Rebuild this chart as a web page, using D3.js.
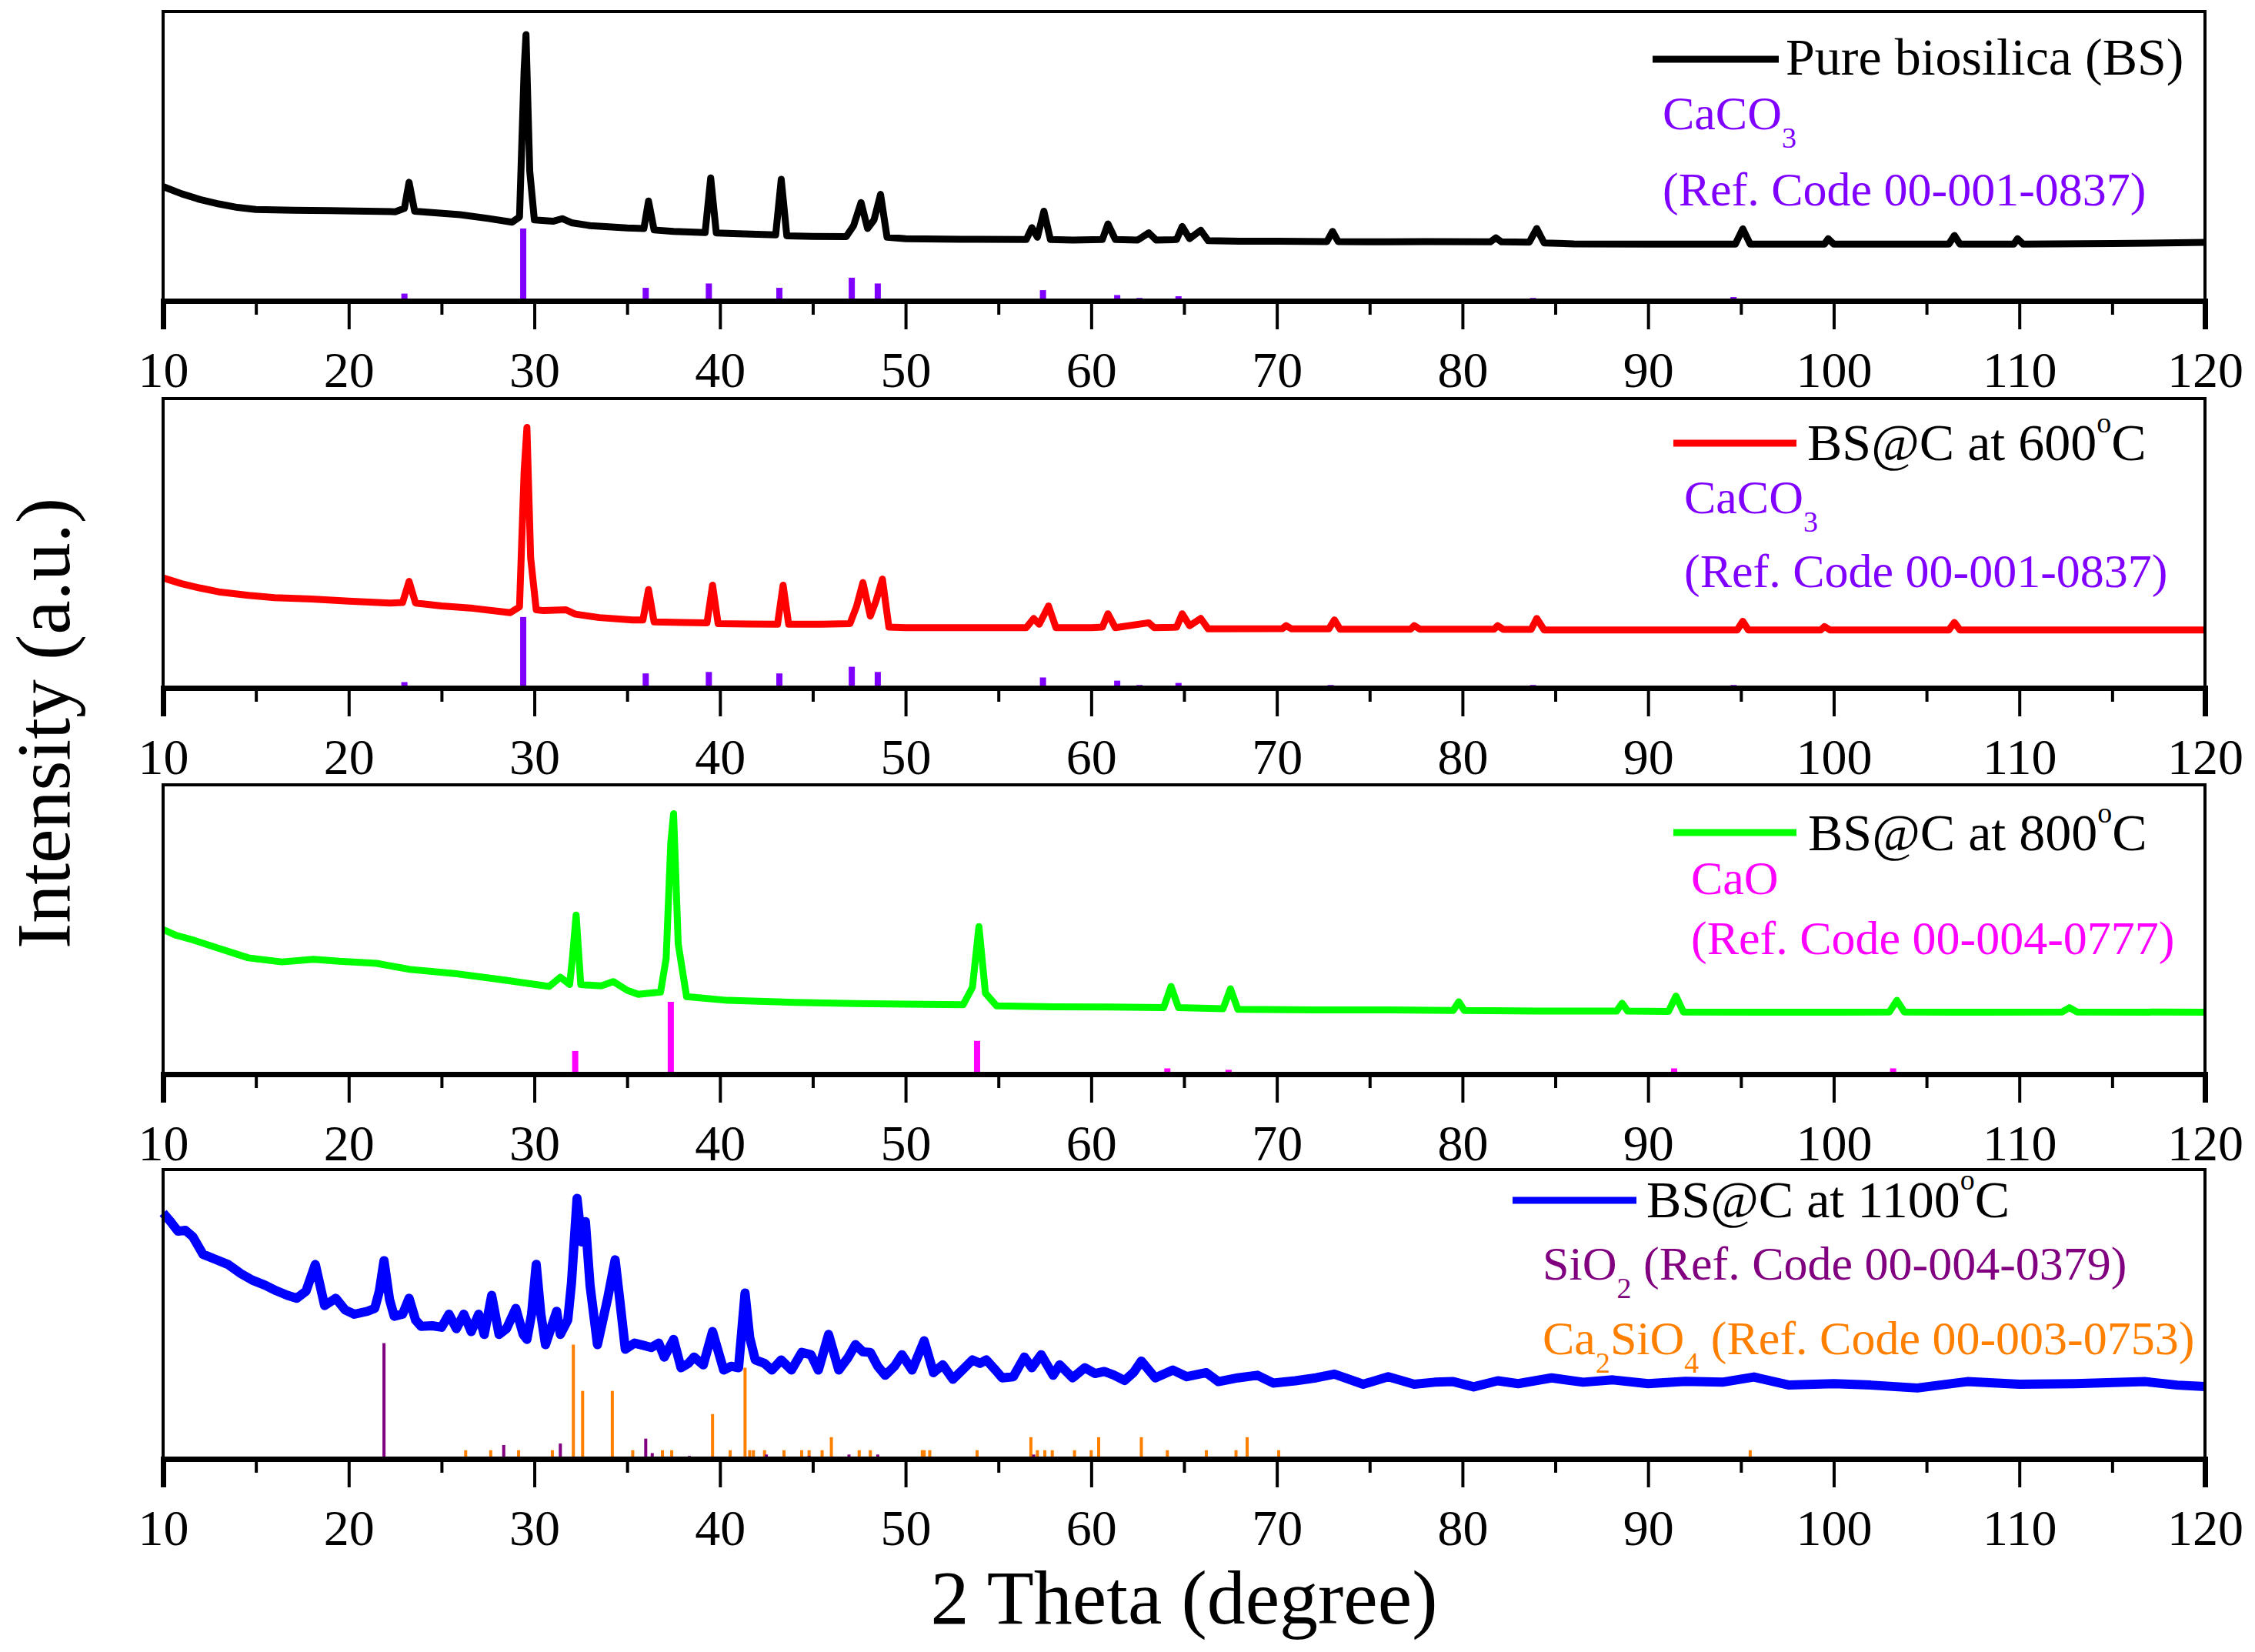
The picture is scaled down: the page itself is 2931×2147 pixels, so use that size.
<!DOCTYPE html>
<html>
<head>
<meta charset="utf-8">
<script src="https://cdn.jsdelivr.net/npm/d3@7"></script>
<style>
  body { margin: 0; background: #fff; }
  svg text { font-family: "Liberation Serif", "Times New Roman", serif; }
</style>
</head>
<body>
<svg id="chart"></svg>
<script>
// values: [2 theta (degree), intensity in % of panel height]
const pureBS = [[10,39.5],[11,37],[12,35],[13,33.5],[14,32.3],[15,31.6],[17,31.3],[19,31.2],[21,31],[22.5,30.8],[23.0,32],[23.25,41],[23.55,31],[24.5,30.5],[26,29.8],[27.5,28.5],[28.8,27.2],[29.2,29],[29.45,80],[29.55,92],[29.75,45],[30.0,28],[31,27.5],[31.5,28.4],[32,27],[33,26],[35,25.2],[35.9,25],[36.15,34.5],[36.45,24.5],[37.5,24],[39.2,23.6],[39.5,42.5],[39.8,23.5],[41,23.2],[43.0,22.8],[43.3,42],[43.6,22.5],[45,22.3],[46.8,22.2],[47.2,26],[47.6,34],[47.95,25],[48.3,28],[48.65,36.8],[49.0,22],[50,21.5],[53,21.3],[56.5,21.2],[56.8,25.3],[57.1,22],[57.45,31],[57.8,21.2],[59,21],[60.6,21.2],[60.9,26.6],[61.3,21.2],[62.5,21],[63.1,23.5],[63.5,21],[64.6,21.2],[64.9,25.7],[65.3,21.5],[65.9,24.4],[66.3,20.8],[68,20.6],[70,20.6],[72.7,20.5],[73.0,24],[73.3,20.5],[76,20.4],[78,20.5],[81.5,20.4],[81.8,21.8],[82.1,20.4],[83.6,20.3],[84.0,25],[84.4,20],[86,19.7],[90,19.6],[94.7,19.6],[95.1,24.9],[95.5,19.6],[99.5,19.6],[99.7,21.5],[100,19.6],[106.2,19.6],[106.5,22.6],[106.8,19.6],[109.7,19.6],[109.9,21.5],[110.2,19.6],[115,19.8],[120,20.2]];

const bs600 = [[10,38],[11,36],[12,34.5],[13,33.2],[14.6,32],[16,31.2],[18,30.7],[20,30],[22.2,29.3],[22.9,29.5],[23.25,36.8],[23.6,29.3],[25,28.3],[26.7,27.5],[28.7,26],[29.2,28],[29.45,75],[29.6,90],[29.8,45],[30.1,27],[30.5,26.7],[31.7,27],[32.2,25.5],[33.5,24.3],[35.3,23.5],[35.85,23.5],[36.15,34],[36.45,22.8],[38,22.6],[39.3,22.5],[39.6,35.5],[39.9,22.2],[41.5,22.1],[43.1,22],[43.4,35.5],[43.7,22],[45.5,22],[47.0,22.2],[47.35,28],[47.7,36.4],[48.1,24.8],[48.4,30],[48.75,37.6],[49.1,21],[50,20.8],[53,20.8],[56.5,20.8],[56.9,24],[57.2,22],[57.7,28.3],[58.1,20.8],[60,20.8],[60.6,21],[60.9,25.6],[61.3,20.8],[63.1,22.5],[63.4,20.8],[64.6,21],[64.9,25.6],[65.3,21.5],[65.9,24],[66.3,20.4],[70.3,20.5],[70.5,21.5],[70.8,20.4],[72.8,20.4],[73.1,23.5],[73.4,20.3],[77.2,20.3],[77.4,21.5],[77.7,20.3],[81.7,20.3],[81.9,21.5],[82.2,20.2],[83.7,20.2],[84.0,24],[84.4,20],[90,20],[94.8,20],[95.1,23],[95.4,20],[99.3,20],[99.5,21.2],[99.8,20],[106.2,20],[106.5,22.6],[106.8,20],[120,20]];

const bs800 = [[10,50],[10.7,48],[11.6,46.4],[12.9,43.7],[14.6,40.2],[16.4,38.8],[18.1,39.7],[19.5,39],[21.5,38.3],[23.3,36.2],[25.7,34.8],[28.4,32.5],[30.3,30.8],[30.8,30.3],[31.4,33.5],[31.9,31],[32.05,40],[32.25,55],[32.5,31],[32.9,30.8],[33.6,30.5],[34.25,32],[35.0,29],[35.6,27.6],[36.8,28.4],[37.1,40],[37.35,80],[37.5,90],[37.75,45],[38.2,26.8],[40.4,25.5],[44,24.8],[47.3,24.4],[50,24.2],[53.1,24],[53.6,30],[53.95,51],[54.3,28],[54.9,23.6],[58,23.3],[61,23.2],[63.9,23],[64.3,30.3],[64.7,23],[67.1,22.6],[67.5,29.5],[67.9,22.4],[72,22.2],[76,22.2],[79.5,22],[79.8,25],[80.1,22],[84,21.8],[88.3,21.8],[88.6,24.5],[88.9,21.8],[91.1,21.7],[91.5,27],[91.9,21.5],[96,21.4],[100,21.4],[103.0,21.5],[103.4,25.5],[103.8,21.5],[108,21.4],[112.3,21.5],[112.7,23],[113.1,21.5],[120,21.4]];

const bs1100 = [[10,85],[10.4,82],[10.8,78.7],[11.2,79],[11.6,76.8],[12.15,70.7],[12.8,69],[13.5,67.2],[14.2,64],[14.8,61.8],[15.5,60],[16.1,58.1],[16.7,56.5],[17.2,55.5],[17.7,58],[18.2,67.2],[18.7,53],[19.3,55.5],[19.8,51.5],[20.3,50],[21.0,51],[21.4,52],[21.65,58],[21.9,68.5],[22.2,55],[22.45,49.3],[22.9,50],[23.25,55.5],[23.6,48],[23.9,45.8],[24.5,46],[25.0,45.5],[25.4,50],[25.8,45],[26.2,50],[26.6,44],[27.0,50],[27.3,43],[27.7,56.5],[28.1,43],[28.5,45],[29.0,52],[29.4,43],[29.6,41.3],[29.85,50],[30.1,67.2],[30.35,50],[30.6,39.5],[31.2,51],[31.4,43],[31.8,48],[32.0,60.8],[32.3,90],[32.55,75],[32.75,82],[33.0,60],[33.4,39.5],[33.95,55.5],[34.35,68.8],[34.6,55],[34.9,37.9],[35.4,40],[35.9,39.2],[36.3,38.5],[36.7,40],[37.0,35.2],[37.5,41.3],[37.9,31.5],[38.3,33],[38.6,35.2],[39.1,32.5],[39.6,44],[40.2,30.7],[40.6,32],[41.0,31.5],[41.35,57.3],[41.6,42],[41.9,34.2],[42.4,33],[42.8,30.7],[43.3,34.2],[43.85,30.7],[44.4,36.8],[44.9,36],[45.3,30.7],[45.85,43],[46.4,30.7],[46.9,35],[47.3,39.5],[47.7,37],[48.1,36.8],[48.5,32],[48.9,28.9],[49.4,32],[49.8,36],[50.35,30.7],[51.0,40.8],[51.5,29.8],[52.0,32.5],[52.55,27.5],[53.1,31],[53.6,34.2],[54.0,33],[54.35,34.2],[54.8,31],[55.2,28],[55.8,28.4],[56.4,35.2],[56.8,31.5],[57.3,36],[57.95,28.9],[58.3,32.5],[59.0,28],[59.65,31.5],[60.2,29.5],[60.7,30.2],[61.2,29],[61.8,27.1],[62.3,30],[62.7,33.8],[63.45,28],[64.4,30.7],[65.15,28.4],[66.2,29.8],[66.85,26.7],[67.9,28],[68.95,28.9],[69.8,26.2],[71,27],[72.1,28],[73.1,29.3],[74.65,25.8],[76.0,28.4],[77.4,25.8],[78.5,26.5],[79.5,26.7],[80.6,24.9],[81.9,27],[83,26],[84.8,28],[86.5,26.5],[88.1,27.3],[90,26],[92,26.8],[94,26.5],[95.7,28.3],[97.6,25.5],[100,26],[102,25.5],[104.5,24.5],[107.2,26.7],[110,25.8],[113,26],[116.8,26.7],[118.5,25.5],[120,25]];

// reference patterns (stick positions and heights)
const caco3PosA = [23.0,29.4,36.0,39.4,43.2,47.1,48.5,57.4,61.4,62.6,64.7,72.9,83.8,94.6];
const caco3HA   = [2.5,25,4.5,6,4.5,8,6,3.7,2,1,1.6,0.8,1,1.3];
const caco3PosB = [23.0,29.4,36.0,39.4,43.2,47.1,48.5,57.4,61.4,62.6,64.7,69.6,72.9,76.8,81.5,83.8,94.6,99.4];
const caco3HB   = [2,24.5,5,5.5,5,7.3,5.5,3.6,2.5,1,1.7,0.5,1,0.5,0.5,1,1,0.5];
const caoPos = [32.2,37.35,53.85,64.1,67.4,79.6,88.5,91.4,103.2,112.5];
const caoH   = [8,25,11.5,2,1.5,0.5,0.5,2,2,0.5];
const sio2Pos = [21.9,28.35,31.4,36.0,36.35,38.35,42.5,44.8,46.95,48.5,56.9,62.2,65.4,69.6,72.9,77.1,79.1,81.4,82.6,83.7,87.6,88.7];
const sio2H   = [40,4.8,5.3,7,2,1,1.5,1,1.5,1.5,1.5,0.7,0.7,0.7,0.7,0.7,0.7,0.7,0.7,0.7,0.7,0.7];
const ca2sio4Pos = [26.3,27.65,29.15,30.97,32.1,32.6,34.2,35.3,36.9,37.4,39.6,40.55,41.35,41.6,41.8,42.4,43.45,44.4,44.8,45.5,46.0,47.5,48.1,50.9,51.0,51.3,53.85,56.75,57.1,57.5,57.9,59.1,60.0,60.4,62.7,64.1,66.2,67.8,68.4,70.1,95.5];
const ca2sio4H   = [3,3,3,3,39.5,23.5,23.5,3,3,3,15.5,3,31.5,3,3,3,3,3,3,3,7.5,3,3,3,3,3,3,7.5,3,3,3,3,3,7.5,7.5,3,3,3,7.5,3,3];

const majorTicks = [10,20,30,40,50,60,70,80,90,100,110,120];
const minorTicks = [15,25,35,45,55,65,75,85,95,105,115];

// layout
const W = 2931, H = 2147;
const plotLeft = 212, plotRight = 2866;
const panelTops = [15, 518, 1020, 1520];
const panelH = 376;

const svg = d3.select('#chart').attr('width', W).attr('height', H);
svg.append('rect').attr('width', W).attr('height', H).attr('fill', '#fff');

const x = d3.scaleLinear().domain([10, 120]).range([plotLeft, plotRight]);

const zip = (p, h) => p.map((v, i) => [v, h[i]]);

const panels = [
  { data: pureBS, color: '#000000',
    name: [['Pure biosilica (BS)']],
    line: [2148, 2312, 62], text: [2321, 82],
    refs: [{ sticks: zip(caco3PosA, caco3HA), color: '#8000ff', w: 8 }],
    notes: [
      { x: 2161, y: 153, color: '#8000ff', parts: [['CaCO'], ['3', 'sub']] },
      { x: 2161, y: 252, color: '#8000ff', parts: [['(Ref. Code 00-001-0837)']] }
    ] },
  { data: bs600, color: '#ff0000',
    name: [['BS@C at 600'], ['o', 'sup'], ['C']],
    line: [2175, 2335, 58], text: [2349, 80],
    refs: [{ sticks: zip(caco3PosB, caco3HB), color: '#8000ff', w: 8 }],
    notes: [
      { x: 2189, y: 149, color: '#8000ff', parts: [['CaCO'], ['3', 'sub']] },
      { x: 2189, y: 245, color: '#8000ff', parts: [['(Ref. Code 00-001-0837)']] }
    ] },
  { data: bs800, color: '#00ff00',
    name: [['BS@C at 800'], ['o', 'sup'], ['C']],
    line: [2175, 2335, 62], text: [2350, 85],
    refs: [{ sticks: zip(caoPos, caoH), color: '#ff00ff', w: 8 }],
    notes: [
      { x: 2198, y: 142, color: '#ff00ff', parts: [['CaO']] },
      { x: 2198, y: 220, color: '#ff00ff', parts: [['(Ref. Code 00-004-0777)']] }
    ] },
  { data: bs1100, color: '#0000ff',
    name: [['BS@C at 1100'], ['o', 'sup'], ['C']],
    line: [1966, 2127, 40], text: [2140, 62],
    refs: [
      { sticks: zip(ca2sio4Pos, ca2sio4H), color: '#ff8000', w: 4 },
      { sticks: zip(sio2Pos, sio2H), color: '#800080', w: 4 }
    ],
    notes: [
      { x: 2005, y: 143, color: '#800080', parts: [['SiO'], ['2', 'sub'], [' (Ref. Code 00-004-0379)']] },
      { x: 2005, y: 240, color: '#ff8000', parts: [['Ca'], ['2', 'sub'], ['SiO'], ['4', 'sub'], [' (Ref. Code 00-003-0753)']] }
    ] }
];

// writes text with sub/superscripts as tspans
function richText(sel, parts) {
  let shift = 0;
  parts.forEach(([t, kind]) => {
    const target = kind === 'sub' ? 24 : kind === 'sup' ? -36 : 0;
    sel.append('tspan')
      .attr('dy', target - shift)
      .attr('font-size', kind ? 38 : null)
      .text(t);
    shift = target;
  });
}

panels.forEach((p, i) => {
  const top = panelTops[i];
  const bottom = top + panelH;
  const y = d3.scaleLinear().domain([0, 100]).range([bottom, top]);
  const g = svg.append('g').attr('class', 'panel');

  // reference sticks
  p.refs.forEach(r => {
    g.append('g').selectAll('rect')
      .data(r.sticks)
      .enter()
      .append('rect')
      .attr('x', d => x(d[0]) - r.w / 2)
      .attr('y', d => y(d[1]))
      .attr('width', r.w)
      .attr('height', d => y(0) - y(d[1]))
      .attr('fill', r.color);
  });

  // pattern
  g.append('path')
    .datum(p.data)
    .attr('fill', 'none')
    .attr('stroke', p.color)
    .attr('stroke-width', i === 3 ? 12 : 9)
    .attr('stroke-linejoin', 'round')
    .attr('d', d3.line().x(d => x(d[0])).y(d => y(d[1])));

  // frame
  g.append('rect')
    .attr('x', plotLeft).attr('y', top)
    .attr('width', plotRight - plotLeft).attr('height', panelH)
    .attr('fill', 'none').attr('stroke', '#000').attr('stroke-width', 4);

  // bottom axis, major and minor ticks
  const ax = g.append('g')
    .attr('transform', `translate(0,${bottom})`)
    .call(d3.axisBottom(x).tickValues(majorTicks).tickSize(37).tickPadding(28).tickFormat(d3.format('d')));
  ax.select('.domain').attr('stroke-width', 7);
  ax.selectAll('.tick line').attr('stroke-width', 4);
  ax.selectAll('.tick text')
    .attr('font-size', 66)
    .attr('font-family', '"Liberation Serif", "Times New Roman", serif')
    .attr('fill', '#000');

  const mx = g.append('g')
    .attr('transform', `translate(0,${bottom})`)
    .call(d3.axisBottom(x).tickValues(minorTicks).tickSize(18).tickFormat(''));
  mx.select('.domain').remove();
  mx.selectAll('.tick line').attr('stroke-width', 4);

  // legend
  g.append('line')
    .attr('x1', p.line[0]).attr('x2', p.line[1])
    .attr('y1', top + p.line[2]).attr('y2', top + p.line[2])
    .attr('stroke', p.color).attr('stroke-width', 9);
  richText(g.append('text')
    .attr('x', p.text[0]).attr('y', top + p.text[1])
    .attr('font-size', 68).attr('fill', '#000'), p.name);

  p.notes.forEach(n => {
    richText(g.append('text')
      .attr('x', n.x).attr('y', top + n.y)
      .attr('font-size', 62).attr('fill', n.color), n.parts);
  });
});

// axis titles
svg.append('text')
  .attr('x', (plotLeft + plotRight) / 2).attr('y', 2110)
  .attr('text-anchor', 'middle').attr('font-size', 100)
  .text('2 Theta (degree)');

svg.append('text')
  .attr('transform', 'translate(90,940) rotate(-90)')
  .attr('text-anchor', 'middle').attr('font-size', 100)
  .text('Intensity (a.u.)');
</script>
</body>
</html>
